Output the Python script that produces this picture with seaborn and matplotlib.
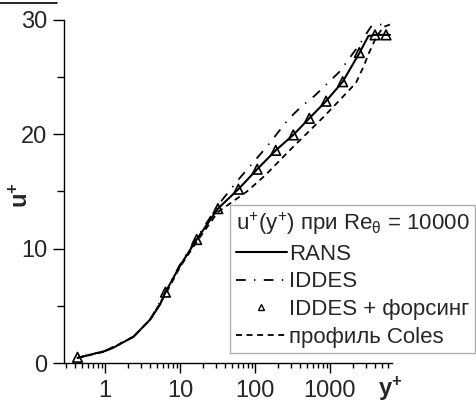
import numpy as np
import pandas as pd
import matplotlib
matplotlib.use("Agg")
import matplotlib.pyplot as plt
from matplotlib.lines import Line2D
from matplotlib.ticker import LogLocator, NullFormatter, FixedLocator
import seaborn as sns

# RANS velocity profile u+(y+)
rans_y = [0.43, 1.0, 1.3, 2.4, 4.0, 5.4, 6.4, 10, 16.7, 32, 60, 107, 189, 324, 530, 885, 1476, 2460, 3250, 3980, 6300]
rans_u = [0.45, 1.05, 1.35, 2.3, 3.8, 5.1, 6.2, 8.5, 10.8, 13.5, 15.2, 16.95, 18.6, 19.95, 21.4, 22.9, 24.6, 27.1, 28.6, 28.7, 28.7]

# IDDES profile
iddes_y = [0.43, 1.0, 2.4, 4.0, 6.4, 10, 16.7, 32, 63, 143, 277, 410, 631, 1350, 2500, 3500, 4200, 6300]
iddes_u = [0.45, 1.05, 2.3, 3.8, 6.2, 8.6, 10.9, 13.8, 16.2, 18.9, 21.3, 22.4, 23.4, 25.5, 27.9, 29.4, 29.6, 29.6]

# IDDES with forcing (symbols)
force_y = [0.43, 6.4, 16.7, 32, 60, 107, 189, 324, 530, 885, 1476, 2460, 3980, 5580]
force_u = [0.5, 6.2, 10.8, 13.5, 15.2, 16.95, 18.6, 19.95, 21.4, 22.9, 24.6, 27.15, 28.7, 28.7]

# Coles profile
coles_y = [0.43, 1.0, 2.4, 4.0, 6.4, 10, 16.7, 32, 78, 136, 300, 815, 1350, 2220, 2790, 3300, 4200, 5200, 6300]
coles_u = [0.45, 1.0, 2.3, 3.8, 6.0, 8.4, 10.6, 13.2, 15.0, 16.4, 18.7, 21.5, 23.0, 24.5, 25.9, 27.1, 28.6, 29.4, 29.6]

x_major = [1, 10, 100, 1000]
x_major_labels = ["1", "10", "100", "1000"]
y_major = [0, 10, 20, 30]
y_minor = [5, 15, 25]

legend_title = "u$^{\\mathregular{+}}$(y$^{\\mathregular{+}}$) при Re$_{\\mathregular{θ}}$ = 10000"
legend_labels = ["RANS", "IDDES", "IDDES + форсинг", "профиль Coles"]

sns.set_style("ticks")
plt.rcParams.update({
    "font.family": ["Liberation Sans", "DejaVu Sans"],
    "mathtext.fontset": "custom",
    "mathtext.rm": "Liberation Sans",
    "mathtext.bf": "Liberation Sans:bold",
    "mathtext.it": "Liberation Sans:italic",
    "lines.scale_dashes": False,
})

LW = 1.3
DASHDOT = (0, (7, 6, 1, 6))
DASHED = (0, (4.3, 3.3))

fig = plt.figure(figsize=(4.77, 4.03), dpi=100)
ax = fig.add_axes([64 / 477, 40 / 403, 328 / 477, 343 / 403])
ax.set_xscale("log")

rans = pd.DataFrame({"y": rans_y, "u": rans_u})
iddes = pd.DataFrame({"y": iddes_y, "u": iddes_u})
force = pd.DataFrame({"y": force_y, "u": force_u})
coles = pd.DataFrame({"y": coles_y, "u": coles_u})

sns.lineplot(data=coles, x="y", y="u", ax=ax, color="black", lw=LW,
             linestyle=DASHED, sort=False, estimator=None)
sns.lineplot(data=iddes, x="y", y="u", ax=ax, color="black", lw=LW,
             linestyle=DASHDOT, sort=False, estimator=None)
sns.lineplot(data=rans, x="y", y="u", ax=ax, color="black", lw=1.5,
             sort=False, estimator=None)
sns.scatterplot(data=force, x="y", y="u", ax=ax, marker="^", s=48,
                facecolor="none", edgecolor="black", linewidth=1.2, zorder=4)

ax.set_xlim(0.284, 6710)
ax.set_ylim(0, 30)

ax.xaxis.set_major_locator(FixedLocator(x_major))
ax.set_xticklabels(x_major_labels)
ax.xaxis.set_minor_locator(LogLocator(base=10, subs=np.arange(2, 10), numticks=20))
ax.xaxis.set_minor_formatter(NullFormatter())
ax.set_yticks(y_major)
ax.set_yticks(y_minor, minor=True)

ax.tick_params(axis="x", which="major", length=7.5, width=1.0, pad=5, labelsize=17, color="black")
ax.tick_params(axis="x", which="minor", length=3.8, width=1.0, color="black")
ax.tick_params(axis="y", which="major", length=8, width=1.0, pad=4, labelsize=17, color="black")
ax.tick_params(axis="y", which="minor", length=5, width=1.0, color="black")

sns.despine(ax=ax)
for side in ("left", "bottom"):
    ax.spines[side].set_linewidth(1.0)
    ax.spines[side].set_color("black")

ax.set_ylabel(r"$\mathbf{u^{+}}$", fontsize=17, rotation=90)
ax.yaxis.label.set_va("center")
ax.yaxis.set_label_coords(-0.13, 0.49)
ax.set_xlabel(r"$\mathbf{y^{+}}$", fontsize=17)
ax.xaxis.set_label_coords(0.995, -0.075)
ax.xaxis.label.set_va("center")
ax.xaxis.label.set_ha("center")

handles = [
    Line2D([], [], color="black", lw=1.5),
    Line2D([], [], color="black", lw=LW, linestyle=DASHDOT),
    Line2D([], [], color="black", marker="^", ms=4.5, mfc="none", mew=1.0, linestyle="none"),
    Line2D([], [], color="black", lw=LW, linestyle=DASHED),
]
leg = ax.legend(handles, legend_labels, title=legend_title,
                loc="upper left", bbox_to_anchor=(230 / 477, 1 - 205 / 403),
                bbox_transform=fig.transFigure, frameon=True, fancybox=False,
                edgecolor="#9a9a9a", fontsize=16, title_fontsize=16,
                handlelength=2.3, handletextpad=0.12, labelspacing=0.3,
                borderpad=0.25, borderaxespad=0, alignment="left")
leg.get_frame().set_linewidth(1.0)

fig.add_artist(Line2D([0, 57 / 477], [1 - 3 / 403, 1 - 3 / 403],
                      transform=fig.transFigure, color="black", lw=1.2))

fig.savefig("out.png", dpi=100)
